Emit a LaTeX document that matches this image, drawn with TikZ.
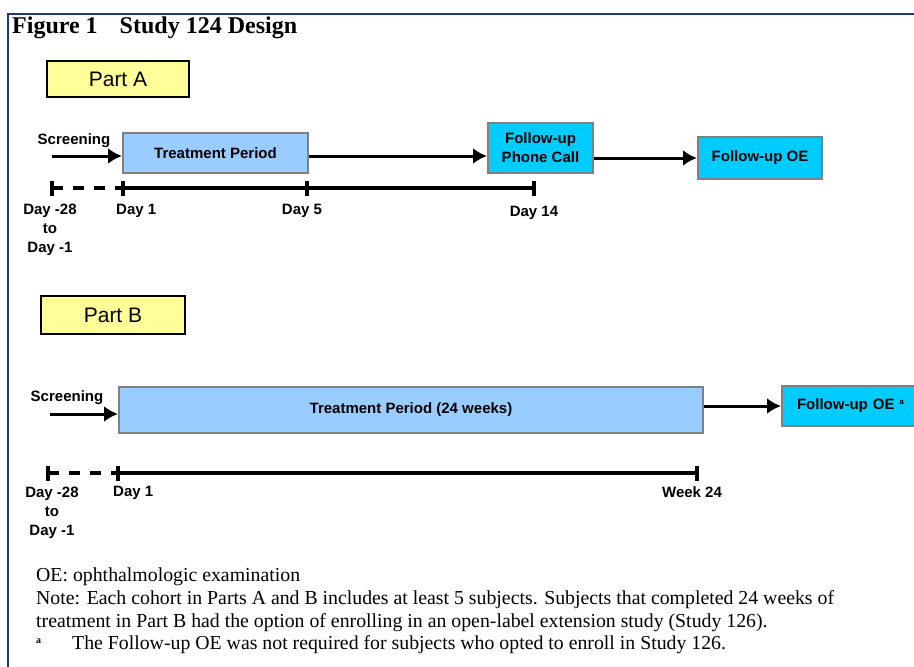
\documentclass[tikz,border=0pt]{standalone}
\usepackage{fontspec}
\setmainfont{Liberation Serif}
\setsansfont{Liberation Sans}
\usetikzlibrary{arrows,arrows.meta}

\definecolor{framecol}{RGB}{31,56,120}
\definecolor{partcol}{RGB}{255,255,153}
\definecolor{treatcol}{RGB}{153,204,255}
\definecolor{followcol}{RGB}{0,204,255}

\begin{document}
\begin{tikzpicture}[x=1pt,y=-1pt]
\tikzset{edge/.style = {-{Latex[length=14pt,width=16pt]},line width=3pt},
  axis/.style = {line width=3.2pt},
  daytick/.style = {line width=3.5pt},
  part/.style = {draw=black,line width=2pt,fill=partcol,inner sep=0pt,
    font=\sffamily\fontsize{21}{24}\selectfont},
  period/.style = {draw=gray,line width=2pt,fill=treatcol,inner sep=0pt,
    font=\sffamily\bfseries\fontsize{15}{18}\selectfont},
  follow/.style = {draw=gray,line width=2pt,fill=followcol,inner sep=0pt,align=center,
    font=\sffamily\bfseries\fontsize{15}{19}\selectfont},
  lbl/.style = {inner sep=0pt,align=center,font=\sffamily\bfseries\fontsize{15}{19.5}\selectfont}}
\useasboundingbox (0,0) rectangle (914,667);

% frame and title
\draw[framecol,line width=2pt] (8,667) -- (8,14) -- (914,14);
\node[anchor=base west,inner sep=0pt,font=\bfseries\fontsize{24}{27}\selectfont] (title) at (12,33)
  {Figure 1\hspace{22pt}Study 124 Design};

% Part A
\node[part,minimum width=142pt,minimum height=36pt] (partA) at (118,79) {Part A};
\node[lbl,anchor=base] (scrA) at (74,144) {Screening};
\coordinate (startA) at (52,156);
\node[period,minimum width=185pt,minimum height=40pt] (trA) at (215.5,153) {Treatment Period};
\node[follow,minimum width=105pt,minimum height=50pt] (phone) at (540.5,148) {Follow-up\\Phone Call};
\node[follow,minimum width=124pt,minimum height=42pt] (oeA) at (760,158) {Follow-up OE};

\draw[edge] (startA) -- (startA -| trA.west);
\draw[edge] (trA.east |- startA) -- (startA -| phone.west);
\draw[edge] (phone.east |- oeA.west) -- (oeA.west);

\coordinate (a0) at (52,188);
\coordinate (a1) at (123,188);
\coordinate (a5) at (307,188);
\coordinate (a14) at (534,188);
\draw[axis,dash pattern=on 11pt off 10pt] (a0) -- (a1);
\draw[axis] (a1) -- (a14);
\foreach \t in {a0,a1,a5,a14}
  \draw[daytick] ([yshift=-7.5pt]\t) -- ([yshift=7.5pt]\t);

\node[lbl,anchor=north] (dayA0) at (50,204) {Day -28\\[-1pt]to\\Day -1};
\node[lbl,anchor=north west] (dayA1) at (116,204) {Day 1};
\node[lbl,anchor=north] (dayA5) at (302,204) {Day 5};
\node[lbl,anchor=north] (dayA14) at (534,206) {Day 14};

% Part B
\node[part,minimum width=144pt,minimum height=38pt] (partB) at (113,315) {Part B};
\node[lbl,anchor=base] (scrB) at (67,401) {Screening};
\coordinate (startB) at (50,414);
\node[period,minimum width=584pt,minimum height=46pt] (trB) at (411,410) {Treatment Period (24 weeks)};
\node[follow,minimum width=134pt,minimum height=40pt,text width=124pt,align=left] (oeB) at (849,406)
  {\hspace{10pt}Follow-up OE \raisebox{5pt}{\fontsize{8}{9}\selectfont a}};

\draw[edge] (startB) -- (startB -| trB.west);
\draw[edge] (trB.east |- oeB.west) -- (oeB.west);

\coordinate (b0) at (48,473);
\coordinate (b1) at (118,473);
\coordinate (b24) at (697,473);
\draw[axis,dash pattern=on 11pt off 10pt] (b0) -- (b1);
\draw[axis] (b1) -- (b24);
\foreach \t in {b0,b1,b24}
  \draw[daytick] ([yshift=-7.5pt]\t) -- ([yshift=7.5pt]\t);

\node[lbl,anchor=north] (dayB0) at (52,487) {Day -28\\[-1pt]to\\Day -1};
\node[lbl,anchor=north west] (dayB1) at (113,486) {Day 1};
\node[lbl,anchor=north] (dayB24) at (692,486) {Week 24};

% notes
\node[anchor=north west,inner sep=0pt,align=left,font=\fontsize{19.8}{22.6}\selectfont] (notes) at (36,568)
  {OE: ophthalmologic examination\\
   Note: Each cohort in Parts A and B includes at least 5 subjects. Subjects that completed 24 weeks of\\
   treatment in Part B had the option of enrolling in an open-label extension study (Study 126).\\
   \makebox[36pt][l]{\raisebox{6pt}{\bfseries\fontsize{10}{10}\selectfont a}}The Follow-up OE was not required for subjects who opted to enroll in Study 126.};
\end{tikzpicture}
\end{document}
